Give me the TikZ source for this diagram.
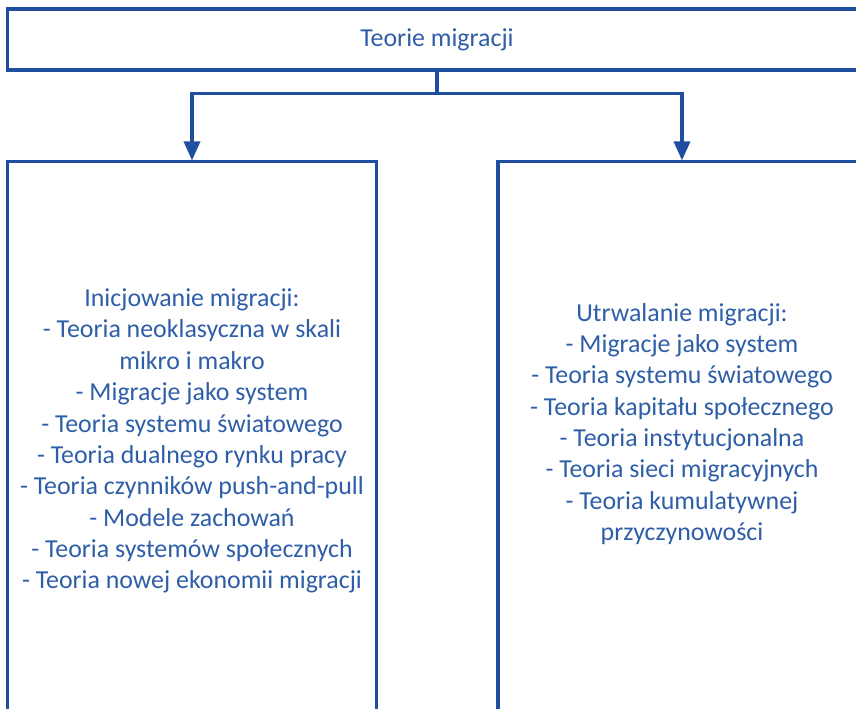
\documentclass[tikz,border=0pt]{standalone}
\usepackage{fontspec}
\setmainfont{Carlito}
\usetikzlibrary{arrows.meta, positioning}
\definecolor{frameblue}{RGB}{31,78,160}
\definecolor{textblue}{RGB}{46,94,168}

\begin{document}
\begin{tikzpicture}[
    x=0.025cm, y=-0.025cm,
    box/.style={draw=frameblue, line width=2.2pt, inner sep=0pt},
    txt/.style={text=textblue, align=center, font=\fontsize{18.4}{22.3}\selectfont},
    arrow/.style={-{Triangle[length=13.5pt, width=11.5pt]}, draw=frameblue, line width=2.2pt}
]
    \useasboundingbox (0,0) rectangle (856,709);
    \clip (0,0) rectangle (856,709);

    \node[box, minimum width=21.45cm, minimum height=1.525cm] (teorie) at (437,39.5) {};
    \node[box, minimum width=9.2cm, minimum height=14.95cm] (inic) at (192,461) {};
    \node[box, minimum width=9.2cm, minimum height=14.95cm] (utrw) at (682,461) {};

    \node[txt] (teorietxt) at (teorie) {Teorie migracji};
    \node[txt] (inictxt) at (192,441) {Inicjowanie migracji:\\
        - Teoria neoklasyczna w skali\\ mikro i makro\\
        - Migracje jako system\\
        - Teoria systemu światowego\\
        - Teoria dualnego rynku pracy\\
        - Teoria czynników push-and-pull\\
        - Modele zachowań\\
        - Teoria systemów społecznych\\
        - Teoria nowej ekonomii migracji};
    \node[txt] (utrwtxt) at (682,424) {Utrwalanie migracji:\\
        - Migracje jako system\\
        - Teoria systemu światowego\\
        - Teoria kapitału społecznego\\
        - Teoria instytucjonalna\\
        - Teoria sieci migracyjnych\\
        - Teoria kumulatywnej\\ przyczynowości};

    \draw[arrow] (teorie.south) -- ++(0,22) -| (inic.north);
    \draw[arrow] (teorie.south) -- ++(0,22) -| (utrw.north);
\end{tikzpicture}
\end{document}
